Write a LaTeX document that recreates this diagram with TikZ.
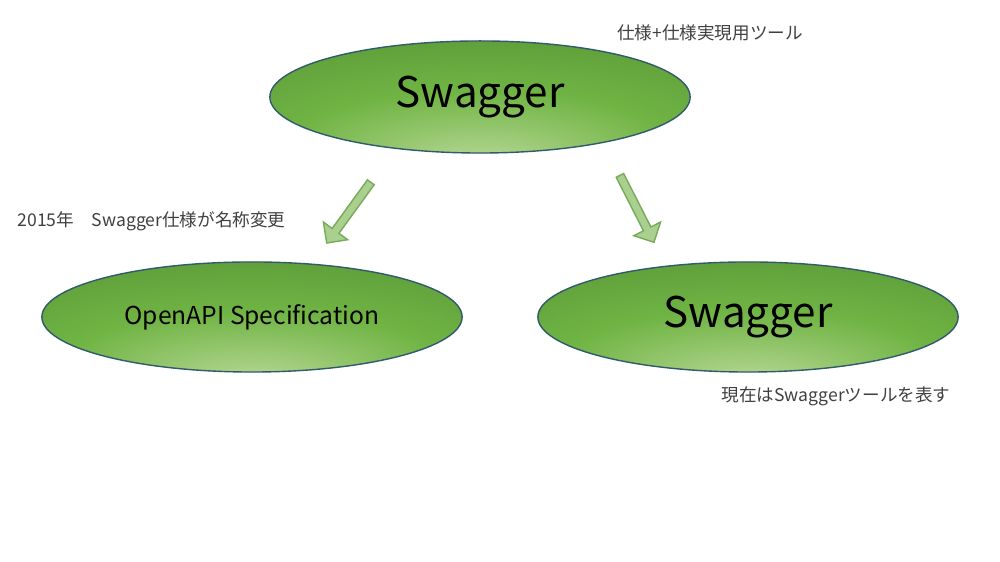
\documentclass[tikz,border=0pt]{standalone}
\usepackage{fontspec}
\setmainfont{Noto Sans CJK JP}
\usetikzlibrary{shapes.geometric,shapes.arrows}
\definecolor{lightg}{RGB}{184,216,150}
\definecolor{midg}{RGB}{112,180,68}
\definecolor{darkg}{RGB}{70,128,44}
\definecolor{arrowfill}{RGB}{169,208,142}
\definecolor{arrowline}{RGB}{120,170,90}
\pgfdeclareradialshading{ellgreen}{\pgfpoint{0bp}{-30bp}}{color(0bp)=(lightg); color(22bp)=(midg); color(62bp)=(darkg)}

\tikzstyle{tool}=[
    ellipse,
    shading=ellgreen,
    draw=darkg!70!blue,
    thin,
    minimum width=4.2cm,
    minimum height=1.12cm,
    inner sep=0pt
]
\tikzstyle{downarrow}=[
    single arrow,
    draw=arrowline,
    fill=arrowfill,
    minimum height=0.75cm,
    minimum width=0.3cm,
    single arrow head extend=0.07cm,
    inner sep=0.02cm
]
\tikzstyle{note}=[
    font=\fontsize{5}{6}\selectfont,
    text=black!75,
    inner sep=0pt
]

\begin{document}
\begin{tikzpicture}[x=0.01cm,y=-0.01cm]
	\useasboundingbox (0,0) rectangle (1000,562);
	% ellipses
	\node (swag_top) [tool] at (480,97) {\fontsize{12}{14}\selectfont Swagger};
	\node (openapi) [tool, minimum height=1.1cm] at (252,317) {\fontsize{7}{8}\selectfont OpenAPI Specification};
	\node (swag_tool) [tool, minimum height=1.1cm] at (748,317) {\fontsize{12}{14}\selectfont Swagger};

	% arrows
	\node (to_openapi) [downarrow, rotate=-126] at (350,211) {};
	\node (to_tool) [downarrow, rotate=-63] at (636,207) {};

	% notes
	\node (note_top) [note] at (710,33) {仕様+仕様実現用ツール};
	\node (note_left) [note, anchor=west] at (17,221) {2015年　Swagger仕様が名称変更};
	\node (note_right) [note] at (836,396) {現在はSwaggerツールを表す};
\end{tikzpicture}
\end{document}
